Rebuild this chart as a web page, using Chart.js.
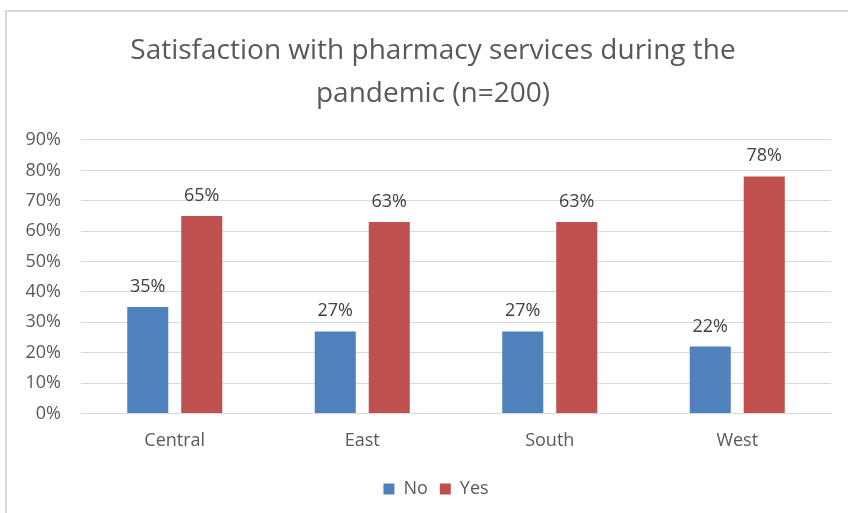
<!DOCTYPE html>
<html>
<head>
<meta charset="utf-8">
<script src="https://cdn.jsdelivr.net/npm/chart.js@4.4.1/dist/chart.umd.min.js"></script>
<style>
  html, body { margin: 0; padding: 0; background: #fff; width: 848px; height: 513px; overflow: hidden; }
  #frame { position: absolute; left: 5px; top: 10px; width: 858px; height: 520px; border: 2px solid #d9d9d9; background: #fff; }
  #frame canvas { display: block; }
</style>
</head>
<body>
<div id="frame"><canvas id="c" width="858" height="520"></canvas></div>
<script>
const regions = ['Central', 'East', 'South', 'West'];
const noValues = [35, 27, 27, 22];
const yesValues = [65, 63, 63, 78];
const titleLines = ['Satisfaction with pharmacy services during the', 'pandemic (n=200)'];

const FONT = "'Open Sans', 'Liberation Sans', sans-serif";

// Percentage label above every bar
const barValueLabels = {
  id: 'barValueLabels',
  afterDatasetsDraw(chart) {
    const ctx = chart.ctx;
    ctx.save();
    ctx.font = "18px " + FONT;
    ctx.fillStyle = '#404040';
    ctx.textAlign = 'center';
    ctx.textBaseline = 'alphabetic';
    chart.data.datasets.forEach((ds, i) => {
      chart.getDatasetMeta(i).data.forEach((bar, j) => {
        ctx.fillText(ds.data[j] + '%', bar.x, bar.y - 15);
      });
    });
    ctx.restore();
  }
};

// Centre the title and legend on the whole frame rather than the padded area
const recentreBlocks = {
  id: 'recentreBlocks',
  afterLayout(chart) {
    if (chart.titleBlock) { chart.titleBlock.left += 14; chart.titleBlock.right += 14; }
    if (chart.legend) { chart.legend.left += 17; chart.legend.right += 17; }
  }
};

new Chart(document.getElementById('c'), {
  type: 'bar',
  data: {
    labels: regions,
    datasets: [
      { label: 'No', data: noValues, backgroundColor: '#4f81bd', borderColor: '#4f81bd' },
      { label: 'Yes', data: yesValues, backgroundColor: '#c0504d', borderColor: '#c0504d' }
    ]
  },
  options: {
    responsive: false,
    animation: false,
    layout: { padding: { left: 0, right: 34, top: 18, bottom: 24 } },
    datasets: { bar: { categoryPercentage: 0.576, barPercentage: 0.76 } },
    plugins: {
      title: {
        display: true,
        text: titleLines,
        color: '#595959',
        font: { family: FONT, size: 28, weight: 'normal', lineHeight: 1.5357 },
        padding: { top: 0, bottom: 24 }
      },
      legend: {
        position: 'bottom',
        labels: {
          color: '#595959',
          font: { family: FONT, size: 18 },
          boxWidth: 11,
          boxHeight: 11,
          padding: 12
        }
      },
      tooltip: { enabled: false }
    },
    scales: {
      x: {
        grid: { display: false, drawTicks: false },
        border: { color: '#d9d9d9', width: 1 },
        ticks: { color: '#595959', font: { family: FONT, size: 18 }, padding: 17 },
        afterFit(scale) { scale.height -= 1; }
      },
      y: {
        min: 0,
        max: 90,
        grid: { color: '#d9d9d9', drawTicks: false },
        border: { display: false },
        ticks: {
          stepSize: 10,
          color: '#595959',
          font: { family: FONT, size: 18 },
          padding: 20,
          callback: v => v + '%'
        },
        afterFit(scale) { scale.width = 74; }
      }
    }
  },
  plugins: [barValueLabels, recentreBlocks]
});
</script>
</body>
</html>
